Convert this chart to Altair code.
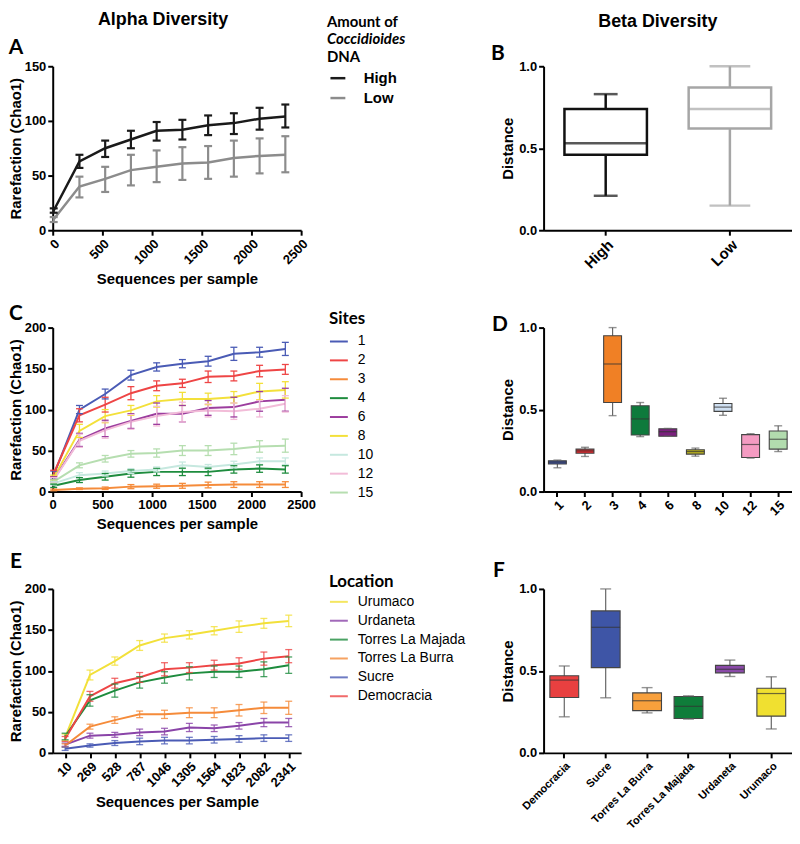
import altair as alt
import pandas as pd

FONT = "Liberation Sans"
TFONT = "Lato"

# ---------------- data ----------------
seqs = [10, 269, 528, 787, 1046, 1305, 1564, 1823, 2082, 2341]

# Panel A : amount of Coccidioides DNA
a_groups = ["High", "Low"]
a_colors = ["#1a1a1a", "#8c8c8c"]
a_mean = {
    "High": [18, 63, 75, 83, 91, 92, 96, 98, 102, 104],
    "Low": [10, 40, 47, 55, 58, 61, 62, 66, 68, 69],
}
a_lo = {
    "High": [16, 57, 67, 75, 82, 83, 87, 88, 92, 94],
    "Low": [7.5, 30, 35, 41, 44, 46, 47, 49, 52, 53],
}
a_hi = {
    "High": [20, 69, 82, 91, 99, 101, 105, 107, 112, 115],
    "Low": [12, 49, 58, 69, 73, 76, 77, 82, 84, 86],
}
a_legend_title = ["Amount of", "Coccidioides", "DNA"]

# Panel B : beta diversity by amount
b_groups = ["High", "Low"]
b_colors = ["#111111", "#a6a6a6"]
b_min = [0.21, 0.15]
b_q1 = [0.46, 0.62]
b_med = [0.53, 0.74]
b_q3 = [0.74, 0.87]
b_max = [0.83, 1.00]

# Panel C : sites
c_sites = ["1", "2", "3", "4", "6", "8", "10", "12", "15"]
c_colors = ["#4a5bb5", "#ee4545", "#f58b3a", "#1e8c3e", "#9c3d9e",
            "#f3e03a", "#c6e8df", "#f2bcd8", "#b6deb0"]
c_mean = {
    "1": [20, 100, 119, 142, 152, 156, 159, 168, 170, 174],
    "2": [22, 93, 106, 120, 129, 132, 140, 141, 147, 149],
    "3": [2, 3.5, 4, 6, 6.5, 7, 8, 8.5, 8.5, 8.5],
    "4": [7, 14, 18, 22, 24, 24, 24, 27, 28, 27],
    "6": [15, 63, 77, 86, 95, 95, 102, 103, 110, 112],
    "8": [17, 74, 92, 99, 110, 113, 113, 115, 122, 124],
    "10": [10, 20, 22, 25, 27, 32, 30, 33, 37, 37],
    "12": [14, 62, 75, 85, 92, 97, 99, 98, 101, 107],
    "15": [12, 32, 40, 46, 47, 50, 50, 52, 55, 56],
}
c_err = {
    "1": [5, 5, 6, 6, 5, 5, 6, 8, 6, 8],
    "2": [4, 8, 9, 8, 6, 5, 7, 6, 7, 6],
    "3": [1, 1, 1.5, 2.5, 2.5, 3, 3.5, 3.5, 3.5, 3.5],
    "4": [2, 3, 4, 4.5, 4.5, 4.5, 4.5, 4.5, 4.5, 4.5],
    "6": [3, 8, 10, 9, 13, 10, 9, 12, 12, 14],
    "8": [3, 8, 8, 6, 7, 8, 7, 7, 10, 10],
    "10": [2, 3, 3, 3, 3, 4, 3, 4, 4, 4],
    "12": [3, 8, 10, 9, 12, 12, 8, 10, 10, 10],
    "15": [2, 3, 4, 4, 5, 6, 6, 7, 7, 8],
}

# Panel D : beta diversity by site
d_min = [0.145, 0.214, 0.463, 0.335, 0.337, 0.216, 0.465, 0.204, 0.244]
d_q1 = [0.168, 0.234, 0.543, 0.345, 0.337, 0.228, 0.489, 0.208, 0.259]
d_med = [0.180, 0.248, 0.778, 0.443, 0.365, 0.244, 0.515, 0.287, 0.319]
d_q3 = [0.188, 0.259, 0.950, 0.523, 0.383, 0.255, 0.537, 0.347, 0.369]
d_max = [0.192, 0.270, 1.000, 0.543, 0.385, 0.265, 0.569, 0.353, 0.401]
d_colors = ["#3c51a3", "#e3262b", "#f08025", "#0e7a3c", "#7a1f7d",
            "#bab21e", "#cfe0f2", "#f49bc2", "#b2dcae"]

# Panel E : locations
e_locs = ["Urumaco", "Urdaneta", "Torres La Majada", "Torres La Burra", "Sucre", "Democracia"]
e_colors = ["#f2e03a", "#8a44a8", "#1e8c3e", "#f58b3a", "#4a5bb5", "#ee4545"]
e_mean = {
    "Urumaco": [19, 95, 112, 131, 140, 144, 149, 154, 158, 161],
    "Urdaneta": [10, 21, 22, 25, 26, 31, 30, 33, 37, 37],
    "Torres La Majada": [20, 64, 76, 86, 92, 97, 99, 99, 102, 107],
    "Torres La Burra": [9, 32, 40, 47, 47, 49, 49, 52, 55, 55],
    "Sucre": [5, 9, 12, 14, 15, 15, 16, 17, 18, 18],
    "Democracia": [17, 69, 85, 92, 102, 104, 107, 109, 115, 118],
}
e_err = {
    "Urumaco": [4, 6, 5, 6, 5, 5, 5, 7, 6, 7],
    "Urdaneta": [2, 3, 3, 4, 4, 5, 4, 4, 5, 5],
    "Torres La Majada": [4, 7, 8, 7, 7, 8, 7, 7, 9, 10],
    "Torres La Burra": [2, 3, 4, 4, 5, 6, 6, 7, 7, 8],
    "Sucre": [2, 2, 3, 4, 4, 4, 4, 4, 4, 4],
    "Democracia": [3, 6, 6, 6, 8, 6, 6, 7, 8, 8],
}

# Panel F : beta diversity by location
f_locs = ["Democracia", "Sucre", "Torres La Burra", "Torres La Majada", "Urdaneta", "Urumaco"]
f_min = [0.220, 0.336, 0.244, 0.206, 0.466, 0.146]
f_q1 = [0.338, 0.520, 0.258, 0.210, 0.488, 0.224]
f_med = [0.444, 0.766, 0.318, 0.284, 0.510, 0.362]
f_q3 = [0.470, 0.866, 0.366, 0.344, 0.534, 0.394]
f_max = [0.530, 1.000, 0.398, 0.348, 0.566, 0.464]
f_colors = ["#e84040", "#3e55a6", "#f8a03c", "#0f7d3a", "#8a4aa8", "#f0e030"]

panel_letters = ["A", "B", "C", "D", "E", "F"]

W, H = 250, 165


# ---------------- helpers ----------------
def series_df(names, means, los, his):
    recs = []
    for n in names:
        for xi, m, lo, hi in zip(seqs, means[n], los[n], his[n]):
            recs.append({"g": n, "x": xi, "y": m, "lo": lo, "hi": hi})
    return pd.DataFrame(recs)


def letter(txt, dx, dy):
    return alt.Chart(pd.DataFrame({"t": [txt]})).mark_text(
        font=TFONT, fontSize=21, fontWeight="bold", align="center",
        baseline="middle", color="black"
    ).encode(text="t:N", x=alt.value(dx), y=alt.value(dy))


def line_panel(df, order, colors, x_enc, ydom, yvals, ytitle, legend,
               line_w=2.0, cap_w=7, eb_w=1.5, eb_op=1.0):
    cscale = alt.Scale(domain=order, range=colors)

    def Y(f):
        return alt.Y(f"{f}:Q", scale=alt.Scale(domain=ydom, nice=False),
                     axis=alt.Axis(values=yvals, title=ytitle, titlePadding=1))

    col = alt.Color("g:N", scale=cscale, legend=legend)
    base = alt.Chart(df)
    line = base.mark_line(strokeWidth=line_w).encode(x=x_enc, y=Y("y"), color=col)
    err = base.mark_rule(strokeWidth=eb_w, opacity=eb_op).encode(
        x=x_enc, y=Y("lo"), y2="hi:Q", color=col)
    cap_lo = base.mark_tick(orient="horizontal", size=cap_w, thickness=eb_w,
                            opacity=eb_op).encode(x=x_enc, y=Y("lo"), color=col)
    cap_hi = base.mark_tick(orient="horizontal", size=cap_w, thickness=eb_w,
                            opacity=eb_op).encode(x=x_enc, y=Y("hi"), color=col)
    return [line, err, cap_lo, cap_hi]


def box_panel(cats, mn, q1, med, q3, mx, box_w, cap_w, label_size,
              fill_colors=None, line_colors=None, lw=1.0,
              edge="#444444", whisk="#666666", med_col="#333333"):
    df = pd.DataFrame({"c": cats, "mn": mn, "q1": q1, "med": med, "q3": q3, "mx": mx})
    X = alt.X("c:N", sort=cats, scale=alt.Scale(paddingInner=0, paddingOuter=0),
              axis=alt.Axis(title=None, labelAngle=-45, labelFontSize=label_size))

    def Y(f):
        return alt.Y(f"{f}:Q", scale=alt.Scale(domain=[0, 1], nice=False),
                     axis=alt.Axis(values=[0, 0.5, 1], format=".1f",
                                   title="Distance", titlePadding=3))

    base = alt.Chart(df)
    if line_colors is not None:
        lc = alt.Color("c:N", scale=alt.Scale(domain=cats, range=line_colors), legend=None)
        ls = alt.Stroke("c:N", scale=alt.Scale(domain=cats, range=line_colors), legend=None)
        wh = base.mark_rule(strokeWidth=lw).encode(x=X, y=Y("mn"), y2="mx:Q", color=lc)
        box = base.mark_bar(size=box_w, fill="white", strokeWidth=lw).encode(
            x=X, y=Y("q1"), y2="q3:Q", stroke=ls)
        md = base.mark_tick(orient="horizontal", size=box_w, thickness=lw).encode(
            x=X, y=Y("med"), color=lc)
        caps = []
        for c, cw in zip(cats, cap_w):
            for f in ("mn", "mx"):
                caps.append(base.transform_filter(alt.datum.c == c).mark_tick(
                    orient="horizontal", size=cw, thickness=lw).encode(
                    x=X, y=Y(f), color=lc))
        return [wh, box, md] + caps
    fc = alt.Fill("c:N", scale=alt.Scale(domain=cats, range=fill_colors), legend=None)
    wh = base.mark_rule(strokeWidth=1.2, color=whisk).encode(x=X, y=Y("mn"), y2="mx:Q")
    box = base.mark_bar(size=box_w, stroke=edge, strokeWidth=1.1).encode(
        x=X, y=Y("q1"), y2="q3:Q", fill=fc)
    md = base.mark_tick(orient="horizontal", size=box_w, thickness=1.2, color=med_col).encode(
        x=X, y=Y("med"))
    c1 = base.mark_tick(orient="horizontal", size=cap_w, thickness=1.4, color=whisk).encode(
        x=X, y=Y("mn"))
    c2 = base.mark_tick(orient="horizontal", size=cap_w, thickness=1.4, color=whisk).encode(
        x=X, y=Y("mx"))
    return [wh, box, md, c1, c2]


def legend(title, x, y, sym, lab_off, row_pad, sw, lab_size, lab_weight="normal",
           title_pad=4):
    kw = dict(orient="none", legendX=x, legendY=y, symbolType="stroke",
              symbolSize=sym * sym, symbolStrokeWidth=sw, labelFont=FONT,
              labelFontSize=lab_size, labelFontWeight=lab_weight, labelColor="black",
              labelOffset=lab_off, rowPadding=row_pad)
    if title:
        kw.update(title=title, titleFont=TFONT, titleFontSize=17,
                  titleFontWeight="bold", titleColor="black", titlePadding=title_pad)
    else:
        kw.update(title=None)
    return alt.Legend(**kw)


# ---------------- panel A ----------------
dfA = series_df(a_groups, a_mean, a_lo, a_hi)
xA = alt.X("x:Q", scale=alt.Scale(domain=[0, 2500], nice=False),
           axis=alt.Axis(values=[0, 500, 1000, 1500, 2000, 2500], labelAngle=-45,
                         format="d", title="Sequences per sample"))
layersA = line_panel(dfA, a_groups, a_colors, xA, [0, 150], [0, 50, 100, 150],
                     "Rarefaction (Chao1)",
                     legend(None, 278, 3, 15, 17, 3, 2.5, 15, "bold"),
                     line_w=2.5, cap_w=8, eb_w=2.2)
title_lines = []
for txt, dy, style in zip(a_legend_title, [-40, -22, -4], ["normal", "italic", "normal"]):
    title_lines.append(alt.Chart(pd.DataFrame({"t": [txt]})).mark_text(
        font=TFONT, fontSize=15, fontWeight="bold", fontStyle=style, align="left",
        baseline="alphabetic", color="black").encode(
        text="t:N", x=alt.value(276), y=alt.value(dy)))
A = alt.layer(*layersA, *title_lines, letter(panel_letters[0], -37, -18)).properties(
    width=W, height=H,
    title=alt.TitleParams("Alpha Diversity", anchor="middle", frame="group",
                          font=FONT, fontSize=18, fontWeight="bold", color="black",
                          dx=-14, offset=-14))

# ---------------- panel B ----------------
layersB = box_panel(b_groups, b_min, b_q1, b_med, b_q3, b_max, box_w=83,
                    cap_w=[24, 41], label_size=15, line_colors=b_colors, lw=2.5)
B = alt.layer(*layersB, letter(panel_letters[1], -46, -12)).properties(
    width=W, height=H,
    title=alt.TitleParams("Beta Diversity", anchor="middle", frame="group",
                          font=FONT, fontSize=18, fontWeight="bold", color="black",
                          dx=-10, offset=13))

# ---------------- panel C ----------------
dfC = series_df(c_sites, c_mean,
                {k: [m - e for m, e in zip(c_mean[k], c_err[k])] for k in c_sites},
                {k: [m + e for m, e in zip(c_mean[k], c_err[k])] for k in c_sites})
xC = alt.X("x:Q", scale=alt.Scale(domain=[0, 2500], nice=False),
           axis=alt.Axis(values=[0, 500, 1000, 1500, 2000, 2500], labelAngle=0,
                         format="d", title="Sequences per sample"))
layersC = line_panel(dfC, c_sites, c_colors, xC, [0, 200], [0, 50, 100, 150, 200],
                     "Rarefaction (Chao1)",
                     legend("Sites", 278, -17, 18, 9, 2, 2.0, 14),
                     line_w=2.0, cap_w=7, eb_w=1.3)
C = alt.layer(*layersC, letter(panel_letters[2], -37, -14)).properties(width=W, height=H)

# ---------------- panel D ----------------
layersD = box_panel(c_sites, d_min, d_q1, d_med, d_q3, d_max, box_w=18, cap_w=8,
                    label_size=13, fill_colors=d_colors)
D = alt.layer(*layersD, letter(panel_letters[3], -44, -3)).properties(width=W, height=H)

# ---------------- panel E ----------------
dfE = series_df(e_locs, e_mean,
                {k: [m - e for m, e in zip(e_mean[k], e_err[k])] for k in e_locs},
                {k: [m + e for m, e in zip(e_mean[k], e_err[k])] for k in e_locs})
xE = alt.X("x:O", sort=seqs, scale=alt.Scale(type="point", padding=0.5),
           axis=alt.Axis(labelAngle=-45, title="Sequences per Sample"))
layersE = line_panel(dfE, e_locs, e_colors, xE, [0, 200], [0, 50, 100, 150, 200],
                     "Rarefaction (Chao1)",
                     legend("Location", 278, -15, 18, 9, 2, 2.0, 14, title_pad=1),
                     line_w=2.0, cap_w=7, eb_w=1.3, eb_op=0.8)
E = alt.layer(*layersE, letter(panel_letters[4], -37, -27)).properties(width=W, height=H)

# ---------------- panel F ----------------
layersF = box_panel(f_locs, f_min, f_q1, f_med, f_q3, f_max, box_w=29, cap_w=11,
                    label_size=11, fill_colors=f_colors)
F = alt.layer(*layersF, letter(panel_letters[5], -45, -18)).properties(width=W, height=H)

chart = alt.concat(A, B, C, D, E, F, columns=2,
                   spacing={"row": 98, "column": 244}, bounds="flush").properties(
    padding=0
).configure_view(stroke=None).configure_axis(
    labelFont=FONT, labelFontWeight="bold", labelFontSize=13, labelColor="black",
    titleFont=FONT, titleFontWeight="bold", titleFontSize=15, titleColor="black",
    domainColor="black", domainWidth=2, tickColor="black", tickWidth=2, tickSize=5,
    grid=False, labelPadding=2, titlePadding=5, labelFlush=False
).resolve_scale(color="independent", fill="independent", stroke="independent")

chart.save("out.html", embed_options={"renderer": "svg", "actions": False})
